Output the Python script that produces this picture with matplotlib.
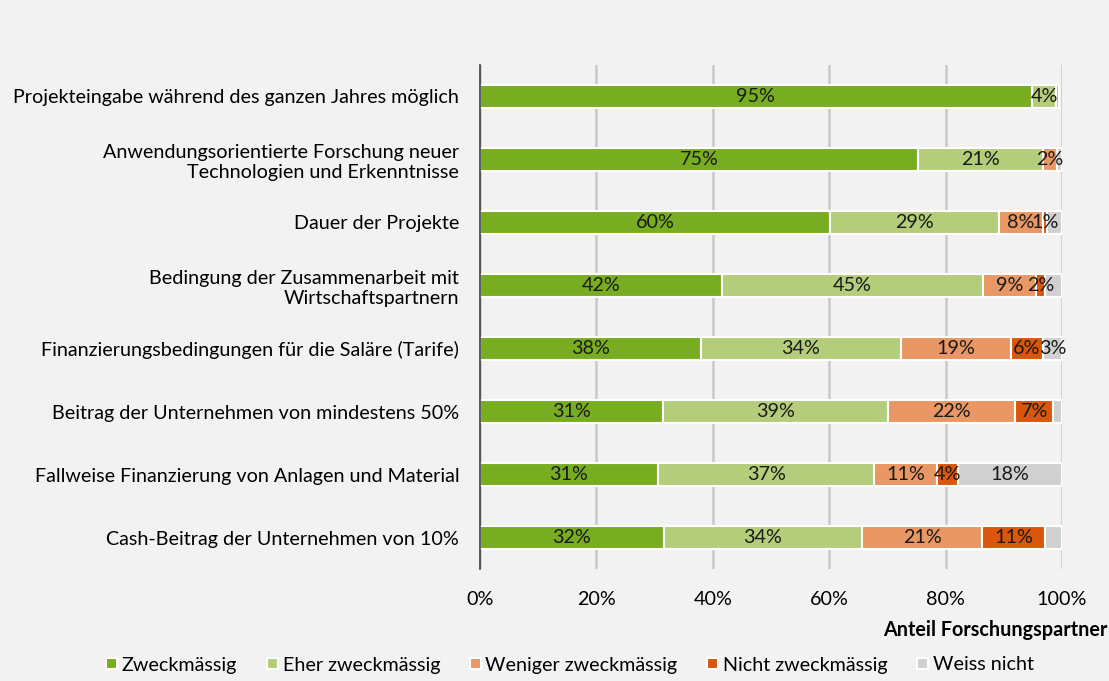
import matplotlib.pyplot as plt
import numpy as np

categories = [
    "Projekteingabe während des ganzen Jahres möglich",
    "Anwendungsorientierte Forschung neuer\nTechnologien und Erkenntnisse",
    "Dauer der Projekte",
    "Bedingung der Zusammenarbeit mit\nWirtschaftspartnern",
    "Finanzierungsbedingungen für die Saläre (Tarife)",
    "Beitrag der Unternehmen von mindestens 50%",
    "Fallweise Finanzierung von Anlagen und Material",
    "Cash-Beitrag der Unternehmen von 10%",
]
series = ["Zweckmässig", "Eher zweckmässig", "Weniger zweckmässig",
          "Nicht zweckmässig", "Weiss nicht"]
zweck = [94.8, 75.3, 60.1, 41.6, 37.9, 31.4, 30.6, 31.6]
eher = [4.2, 21.4, 29.1, 44.8, 34.4, 38.7, 37.1, 34.0]
weniger = [0.4, 2.4, 7.5, 9.1, 18.9, 21.8, 10.8, 20.7]
nicht = [0.0, 0.0, 0.7, 1.6, 5.5, 6.6, 3.6, 10.8]
weiss = [0.0, 0.9, 2.6, 2.9, 3.3, 1.5, 17.9, 2.9]
# labels removed in the original: (row, series)
hidden = {(0, 2), (1, 4), (2, 4), (3, 4), (5, 4), (7, 4)}

colors = ["#78ad22", "#b3cd7b", "#e99764", "#d9560b", "#d0d0d0"]
data = np.array([zweck, eher, weniger, nicht, weiss])
fs = 14.2

plt.rcParams['font.family'] = ['Lato', 'DejaVu Sans']
fig = plt.figure(figsize=(11.09, 6.81), dpi=100, facecolor="#f2f2f2")
ax = fig.add_axes([480 / 1109, 1 - 569 / 681, 582 / 1109, 504 / 681])
ax.set_facecolor("#f2f2f2")

y = np.arange(len(categories))
left = np.zeros(len(categories))
for i, name in enumerate(series):
    vals = data[i]
    ax.barh(y, vals, left=left, height=0.38, color=colors[i],
            edgecolor="white", linewidth=1.5, label=name, zorder=3)
    for j, v in enumerate(vals):
        if v <= 0 or (j, i) in hidden:
            continue
        ax.text(left[j] + v / 2, y[j], f"{v:.0f}%", ha="center", va="center",
                fontsize=fs, color="#1a1a1a", zorder=4)
    left += vals

ax.set_xlim(0, 100)
ax.set_ylim(len(categories) - 0.5, -0.5)
ax.set_xticks(np.arange(0, 101, 20))
ax.set_xticklabels([f"{t}%" for t in range(0, 101, 20)], fontsize=fs)
ax.set_yticks(y)
ax.set_yticklabels(categories, fontsize=fs)
ax.tick_params(axis="x", length=0, pad=16)
ax.tick_params(axis="y", length=0, pad=15)
ax.grid(axis="x", color="#c8c8c8", linewidth=1.8, zorder=0)
for s in ["top", "right", "bottom"]:
    ax.spines[s].set_visible(False)
ax.spines["left"].set_color("#404040")
ax.spines["left"].set_linewidth(1.2)
ax.spines["left"].set_zorder(5)

fig.text(1107 / 1109, 1 - 630 / 681, "Anteil Forschungspartner", ha="right",
         va="center", fontsize=fs, fontweight="bold")
fig.legend(loc="center", bbox_to_anchor=(570 / 1109, 1 - 665 / 681), ncol=5,
           frameon=False, fontsize=fs, handlelength=0.55, handleheight=0.55,
           handletextpad=0.25, columnspacing=1.5)

plt.savefig("out.png", dpi=100, facecolor=fig.get_facecolor())
